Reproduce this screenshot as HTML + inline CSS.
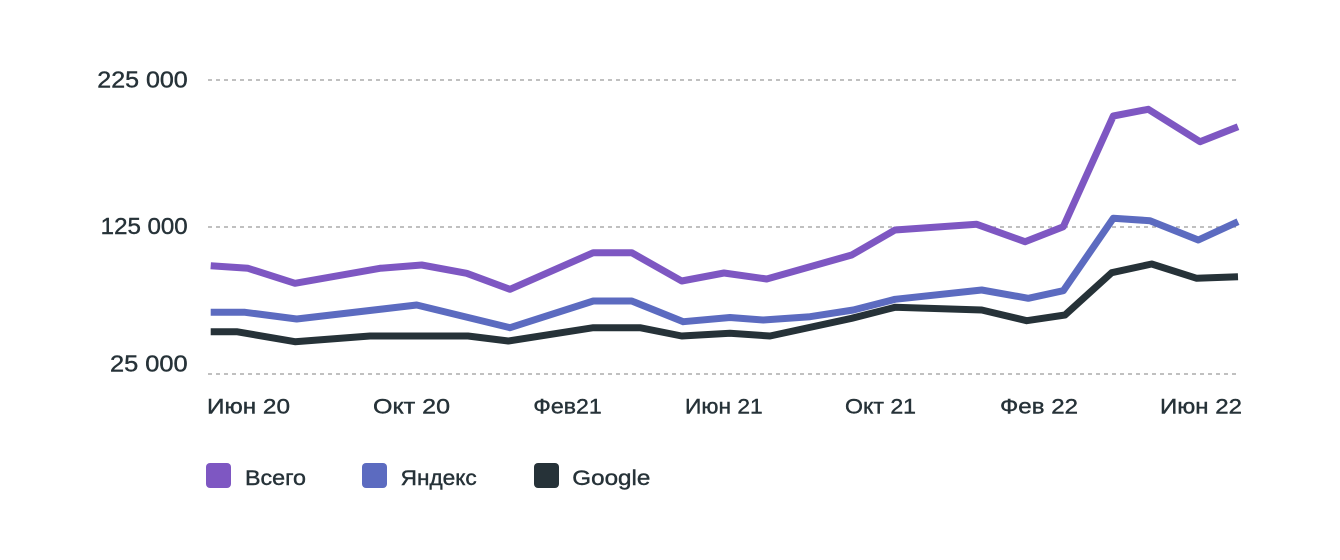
<!DOCTYPE html>
<html>
<head>
<meta charset="utf-8">
<style>
  html, body { margin: 0; padding: 0; background: #ffffff; }
  svg { display: block; }
  text { font-family: "Liberation Sans", "DejaVu Sans", sans-serif; fill: #263238; stroke: #263238; stroke-width: 0.4; }
</style>
</head>
<body>
<svg width="1340" height="560" viewBox="0 0 1340 560" xmlns="http://www.w3.org/2000/svg">
  <rect x="0" y="0" width="1340" height="560" fill="#ffffff"/>

  <!-- grid lines -->
  <g stroke="#9a9a9a" stroke-width="1.3" stroke-dasharray="4 4" fill="none">
    <line x1="208" y1="80" x2="1240" y2="80"/>
    <line x1="208" y1="227" x2="1240" y2="227"/>
    <line x1="208" y1="374" x2="1240" y2="374"/>
  </g>

  <!-- y axis labels -->
  <g font-size="23">
    <text x="97.3" y="87.3" textLength="90.4" lengthAdjust="spacingAndGlyphs">225 000</text>
    <text x="100.7" y="234" textLength="87" lengthAdjust="spacingAndGlyphs">125 000</text>
    <text x="110" y="371.7" textLength="77.7" lengthAdjust="spacingAndGlyphs">25 000</text>
  </g>

  <!-- x axis labels -->
  <g font-size="21.5">
    <text x="207" y="413.3" textLength="83" lengthAdjust="spacingAndGlyphs">Июн 20</text>
    <text x="373" y="413.3" textLength="77" lengthAdjust="spacingAndGlyphs">Окт 20</text>
    <text x="533.3" y="413.3" textLength="68.4" lengthAdjust="spacingAndGlyphs">Фев21</text>
    <text x="685" y="413.3" textLength="77.7" lengthAdjust="spacingAndGlyphs">Июн 21</text>
    <text x="845" y="413.3" textLength="71" lengthAdjust="spacingAndGlyphs">Окт 21</text>
    <text x="1000" y="413.3" textLength="78" lengthAdjust="spacingAndGlyphs">Фев 22</text>
    <text x="1160" y="413.3" textLength="82" lengthAdjust="spacingAndGlyphs">Июн 22</text>
  </g>

  <!-- series -->
  <g fill="none" stroke-width="7" stroke-linejoin="round" stroke-linecap="butt">
    <polyline stroke="#263238" points="210.7,331.7 236.7,331.7 295,341.7 370,336 468,336 508.3,341 593.3,327.7 640,327.7 681.7,336 730,333.3 770,336 851.7,318.3 895,307.3 981.7,310 1026.7,320.7 1065,315 1111.7,272.7 1151.7,264 1196.7,278.3 1238,276.7"/>
    <polyline stroke="#5C6BC0" points="210.7,312.3 245,312.3 296.7,319 416.7,305 510,327.7 593.3,301 631.7,301 683.3,321.7 730,317.5 763.3,320 810,316.7 853.3,310 895,299.3 981.7,290 1028.3,298.3 1063.3,290.7 1113.3,218.3 1150,220.7 1198.3,240 1238,221.7"/>
    <polyline stroke="#7E57C2" points="210.7,265.7 248,268.3 295,283.3 380,268.3 421.7,265 466.7,273.3 510,289.3 593.3,252.7 631.7,252.7 681.7,281 724,273 766.7,279 851.7,255 895,230 976.7,224.3 1025,241.7 1063.3,226.7 1113.3,116 1148.3,109.3 1200,141.7 1238,126.7"/>
  </g>

  <!-- legend -->
  <rect x="206" y="463" width="25" height="25" rx="4" ry="4" fill="#7E57C2"/>
  <rect x="362" y="463" width="25" height="25" rx="4" ry="4" fill="#5C6BC0"/>
  <rect x="534" y="463" width="25" height="25" rx="4" ry="4" fill="#263238"/>
  <g font-size="21">
    <text x="245" y="485" textLength="61" lengthAdjust="spacingAndGlyphs">Всего</text>
    <text x="400.7" y="485" textLength="76" lengthAdjust="spacingAndGlyphs">Яндекс</text>
    <text x="572.3" y="485" textLength="78" lengthAdjust="spacingAndGlyphs">Google</text>
  </g>
</svg>
</body>
</html>
